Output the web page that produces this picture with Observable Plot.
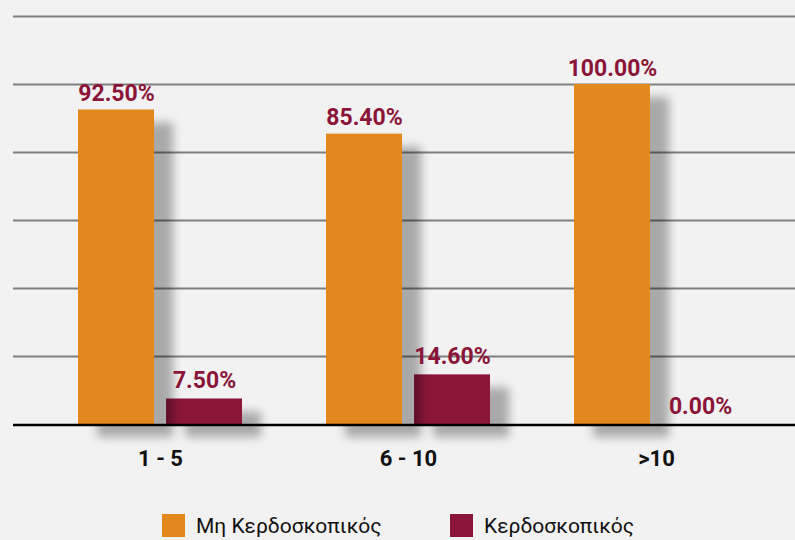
<!DOCTYPE html>
<html>
<head>
<meta charset="utf-8">
<script src="https://cdn.jsdelivr.net/npm/d3@7"></script>
<script src="https://cdn.jsdelivr.net/npm/@observablehq/plot@0.6"></script>
<style>
  html, body { margin: 0; padding: 0; background: #f2f2f2; }
  body { width: 795px; height: 540px; overflow: hidden; font-family: Roboto, "Noto Sans", sans-serif; }
  #legend { position: relative; height: 35px; width: 795px; }
  .item { position: absolute; top: 9px; display: flex; align-items: center; height: 23px; font-size: 21px; color: #111; white-space: nowrap; }
  .sw { width: 23px; height: 23px; margin-right: 11px; }
</style>
</head>
<body>
<div id="chart"></div>
<div id="legend"></div>
<script>
const categories = ["1 - 5", "6 - 10", ">10"];
const seriesNames = ["Μη Κερδοσκοπικός", "Κερδοσκοπικός"];
const nonProfit = [92.5, 85.4, 100];
const profit = [7.5, 14.6, 0];
const yTicks = [20, 40, 60, 80, 100, 120];
const colors = ["#e2881c", "#8b1538"];

const fmt = v => v.toFixed(2) + "%";
const dataNP = categories.map((c, i) => ({cat: c, value: nonProfit[i], series: seriesNames[0]}));
const dataP = categories.map((c, i) => ({cat: c, value: profit[i], series: seriesNames[1]}));

const W = 795, H = 505;
const plot = Plot.plot({
  width: W,
  height: H,
  marginLeft: 13,
  marginRight: 0,
  marginTop: 16,
  marginBottom: 81,
  style: {background: "#f2f2f2", fontFamily: "Roboto, 'Noto Sans', sans-serif", color: "#000", overflow: "visible"},
  x: {type: "band", domain: categories, range: [36, 780], padding: 0, label: null},
  y: {domain: [0, 120], axis: null},
  marks: [
    Plot.ruleY(yTicks, {stroke: "#7f7f7f", strokeWidth: 2}),
    Plot.barY(dataP, {x: "cat", y: "value", fill: colors[1], insetLeft: 130, insetRight: 42}),
    Plot.barY(dataNP, {x: "cat", y: "value", fill: colors[0], insetLeft: 42, insetRight: 130}),
    Plot.ruleY([0], {stroke: "#000", strokeWidth: 2.5, dy: 0.5}),
    Plot.text(dataNP, {x: "cat", y: "value", text: d => fmt(d.value), dx: -44, dy: -9, lineAnchor: "bottom", fill: colors[1], fontSize: 23, fontWeight: "bold"}),
    Plot.text(dataP, {x: "cat", y: "value", text: d => fmt(d.value), dx: 44, dy: -11, lineAnchor: "bottom", fill: colors[1], fontSize: 23, fontWeight: "bold"}),
    Plot.axisX({tickSize: 0, tickPadding: 26, fontSize: 22, fontWeight: "bold", fill: "#111", label: null})
  ]
});

// drop shadow filter for bars
const svg = d3.select(plot);
const defs = svg.insert("defs", ":first-child");
const f = defs.append("filter").attr("id", "barShadow")
  .attr("filterUnits", "userSpaceOnUse")
  .attr("x", 0).attr("y", 0).attr("width", W).attr("height", H);
f.append("feDropShadow").attr("dx", 19).attr("dy", 13).attr("stdDeviation", 5)
  .attr("flood-color", "#000").attr("flood-opacity", 0.3);
svg.selectAll('g[aria-label="bar"]').attr("filter", "url(#barShadow)");

document.getElementById("chart").appendChild(plot);

// legend
const legend = d3.select("#legend");
const lefts = [162, 450];
seriesNames.forEach((name, i) => {
  const item = legend.append("div").attr("class", "item").style("left", lefts[i] + "px");
  item.append("div").attr("class", "sw").style("background", colors[i]);
  item.append("span").text(name);
});
</script>
</body>
</html>
